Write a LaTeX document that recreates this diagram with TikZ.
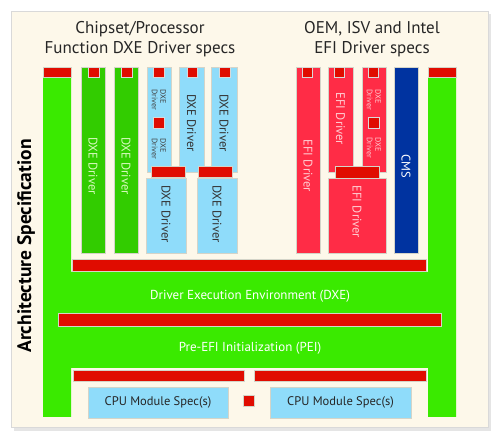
\documentclass[tikz,border=0pt]{standalone}
\usepackage{fontspec}
\setmainfont{PT Sans}
\definecolor{beige}{RGB}{253,248,234}
\definecolor{frameg}{RGB}{58,234,0}
\definecolor{colg}{RGB}{50,204,0}
\definecolor{lblue}{RGB}{143,220,250}
\definecolor{barred}{RGB}{224,12,0}
\definecolor{colred}{RGB}{255,44,70}
\definecolor{dblue}{RGB}{0,51,160}
\definecolor{edge}{RGB}{212,212,200}
\tikzset{
  base/.style={anchor=north west, inner sep=0pt, outer sep=0pt, draw=edge, line width=0.7pt},
  gcol/.style={base, fill=colg},
  bcol/.style={base, fill=lblue},
  rcol/.style={base, fill=colred},
  dcol/.style={base, fill=dblue},
  rbar/.style={base, fill=barred},
  rsq/.style={base, fill=barred, draw=white!85!black},
  gtxt/.style={rotate=-90, font=\fontsize{12.5}{13}\selectfont, text={rgb,255:red,215;green,250;blue,190}},
  btxt/.style={rotate=-90, font=\fontsize{12.5}{13}\selectfont, text=black!80},
  rtxt/.style={rotate=-90, font=\fontsize{12.5}{13}\selectfont, text={rgb,255:red,255;green,205;blue,210}},
  smalltxt/.style={rotate=-90, align=left, inner sep=0pt, font=\fontsize{8}{8.5}\selectfont},
  ttl/.style={font=\fontsize{17}{20}\selectfont, align=center, text=black!85},
  wtxt/.style={font=\fontsize{13}{14}\selectfont, text=white},
}
\newcommand\bx[6]{\node[#6, minimum width={(#4-#2)*1pt}, minimum height={(#5-#3)*1pt}] (#1) at (#2,#3) {};}
\begin{document}
\begin{tikzpicture}[x=1pt,y=-1pt]
\useasboundingbox (0,0) rectangle (499,441);
% panel
\fill[black!10] (14,14) rectangle (491,431);
\fill[beige, draw=black!15] (11,11) rectangle (488,427);
% titles
\node[ttl] (t1) at (140,39) {Chipset/Processor\\Function DXE Driver specs};
\node[ttl] (t2) at (372,39) {OEM, ISV and Intel\\EFI Driver specs};
% architecture spec
\node[rotate=90, font=\bfseries\fontsize{19.5}{21}\selectfont] (arch) at (26,246) {Architecture Specification};
% green frame
\fill[frameg] (43,77) -- (71,77) -- (71,272) -- (428,272) -- (428,77) -- (456,77) -- (456,417) -- (428,417) -- (428,368) -- (71,368) -- (71,417) -- (43,417) -- cycle;
\bx{capL}{43}{67}{71}{77}{rbar}
\bx{capR}{428}{67}{456}{77}{rbar}
% horizontal bars
\bx{barDXE}{72}{259}{426}{271}{rbar}
\bx{barPEI}{58}{313}{441}{326}{rbar}
\bx{barL}{73}{370}{244}{381}{rbar}
\bx{barR}{254}{370}{426}{381}{rbar}
\bx{sqC}{243}{395}{254}{406}{rbar}
\node[wtxt] (dxe) at (250,296) {Driver Execution Environment (DXE)};
\node[wtxt] (pei) at (250,348) {Pre-EFI Initialization (PEI)};
% CPU modules
\bx{cpuL}{88}{387}{228}{418}{bcol}
\bx{cpuR}{270}{387}{411}{418}{bcol}
\node[font=\fontsize{12.5}{14}\selectfont, text=black!85] (cpuLt) at (cpuL.center) {CPU Module Spec(s)};
\node[font=\fontsize{12.5}{14}\selectfont, text=black!85] (cpuRt) at (cpuR.center) {CPU Module Spec(s)};
% left group: green columns
\bx{g1}{81}{67}{105}{253}{gcol}
\bx{g2}{114}{67}{138}{253}{gcol}
\bx{g1s}{88}{67}{99}{77}{rsq}
\bx{g2s}{121}{67}{132}{77}{rsq}
\node[gtxt] (g1t) at (93,166) {DXE Driver};
\node[gtxt] (g2t) at (126,166) {DXE Driver};
% blue columns
\bx{b3}{147}{67}{171}{172}{bcol}
\bx{b4}{179}{67}{204}{172}{bcol}
\bx{b5}{211}{67}{237}{172}{bcol}
\bx{b3s}{153}{67}{164}{77}{rsq}
\bx{b3s2}{153}{117}{164}{128}{rsq}
\bx{b4s}{187}{67}{197}{77}{rsq}
\bx{b5s}{219}{67}{230}{77}{rsq}
\node[smalltxt, text=black!75] (b3t1) at (159,100) {DXE\\Driver};
\node[smalltxt, text=black!75] (b3t2) at (159,149) {DXE\\Driver};
\node[btxt] (b4t) at (191.5,123) {DXE Driver};
\node[btxt] (b5t) at (224,123) {DXE Driver};
\bx{b6}{146}{178}{186}{253}{bcol}
\bx{b7}{197}{178}{237}{253}{bcol}
\bx{b6c}{151}{166}{185}{177}{rbar}
\bx{b7c}{198}{166}{232}{177}{rbar}
\node[btxt] (b6t) at (166,214) {DXE Driver};
\node[btxt] (b7t) at (217,214) {DXE Driver};
% right group: red columns
\bx{r1}{296}{67}{320}{253}{rcol}
\bx{r2}{328}{67}{353}{172}{rcol}
\bx{r3}{362}{67}{386}{172}{rcol}
\bx{cms}{394}{67}{418}{253}{dcol}
\bx{r1s}{302}{67}{312}{77}{rsq}
\bx{r2s}{334}{67}{344}{77}{rsq}
\bx{r3s}{368}{67}{378}{77}{rsq}
\bx{r3s2}{368}{117}{379}{128}{rsq}
\node[rtxt] (r1t) at (308,166) {EFI Driver};
\node[rtxt] (r2t) at (340.5,119) {EFI Driver};
\node[smalltxt, text={rgb,255:red,255;green,205;blue,210}] (r3t1) at (374,100) {DXE\\Driver};
\node[smalltxt, text={rgb,255:red,255;green,205;blue,210}] (r3t2) at (374,148) {DXE\\Driver};
\node[rotate=-90, font=\fontsize{12.5}{13}\selectfont, text=white] (cmst) at (406,166) {CMS};
\bx{r4}{328}{178}{386}{253}{rcol}
\bx{r4c}{335}{166}{379}{178}{rbar}
\node[rtxt] (r4t) at (357,212) {EFI Driver};
\end{tikzpicture}
\end{document}
